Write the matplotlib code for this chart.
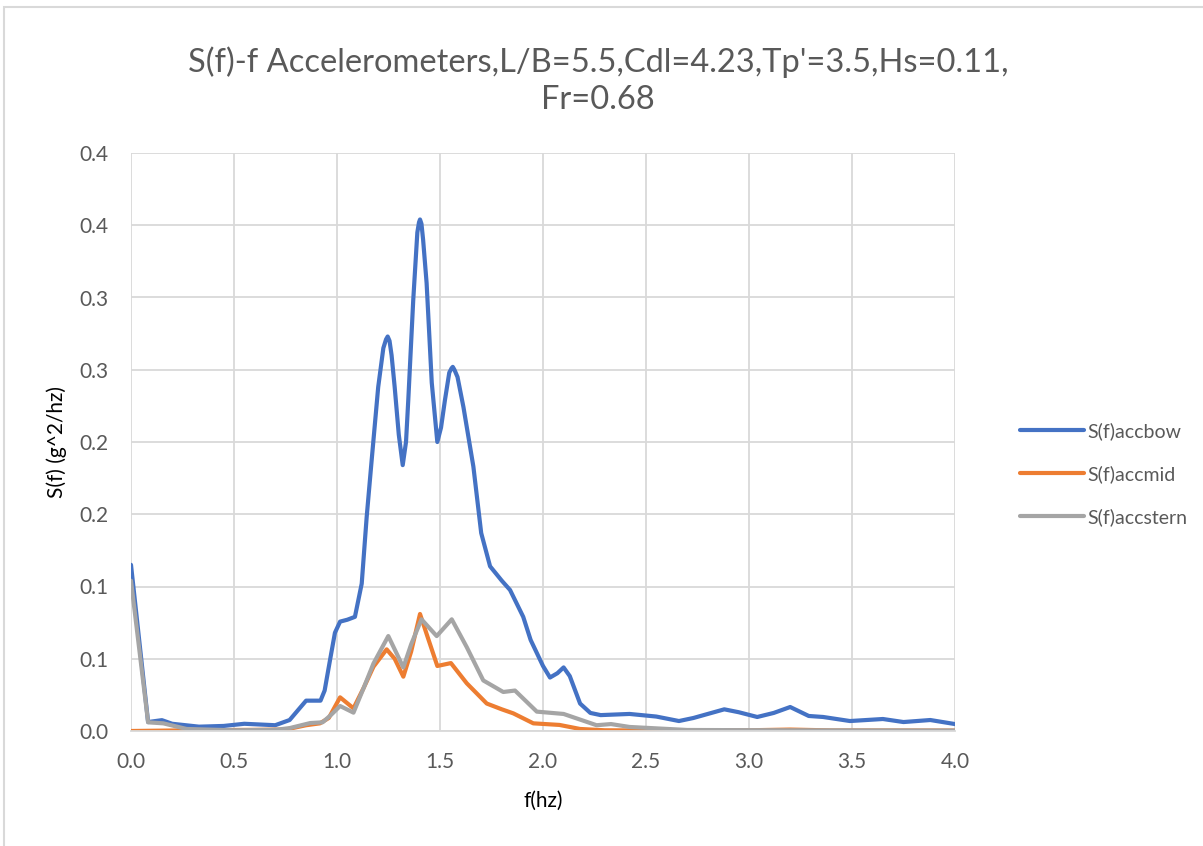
import matplotlib.pyplot as plt
from matplotlib.patches import Rectangle

# espectros S(f) dos tres acelerometros
f_bow = [0, 0.083, 0.15, 0.2, 0.33, 0.45, 0.55, 0.7, 0.77, 0.85, 0.92, 0.94, 0.966, 0.99,
         1.015, 1.05, 1.087, 1.12, 1.144, 1.168, 1.20, 1.225, 1.238, 1.246, 1.255, 1.265,
         1.28, 1.30, 1.319, 1.335, 1.346, 1.37, 1.39, 1.398, 1.403, 1.41, 1.418, 1.435,
         1.46, 1.487, 1.505, 1.524, 1.545, 1.556, 1.562, 1.57, 1.585, 1.614, 1.662, 1.70,
         1.743, 1.80, 1.84, 1.904, 1.94, 2.0, 2.034, 2.07, 2.10, 2.13, 2.18, 2.23, 2.28,
         2.42, 2.55, 2.66, 2.73, 2.88, 2.95, 3.04, 3.12, 3.2, 3.29, 3.36, 3.49, 3.65,
         3.75, 3.88, 4.0]
s_bow = [0.115, 0.0062, 0.0075, 0.005, 0.003, 0.0035, 0.005, 0.004, 0.0076, 0.021, 0.021,
         0.028, 0.049, 0.068, 0.0757, 0.077, 0.079, 0.102, 0.148, 0.187, 0.238, 0.265,
         0.271, 0.273, 0.270, 0.26, 0.238, 0.205, 0.184, 0.2, 0.229, 0.298, 0.345, 0.352,
         0.354, 0.351, 0.34, 0.310, 0.241, 0.200, 0.21, 0.229, 0.248, 0.251, 0.252, 0.250,
         0.245, 0.224, 0.183, 0.137, 0.114, 0.104, 0.0976, 0.079, 0.063, 0.045, 0.037,
         0.040, 0.044, 0.038, 0.019, 0.0125, 0.011, 0.0118, 0.010, 0.0069, 0.009, 0.015,
         0.013, 0.0097, 0.0125, 0.0166, 0.0104, 0.0097, 0.0069, 0.0083, 0.0062, 0.0076,
         0.0048]

f_mid = [0, 0.3, 0.6, 0.75, 0.85, 0.917, 0.96, 1.015, 1.08, 1.13, 1.177, 1.241, 1.28,
         1.322, 1.36, 1.403, 1.44, 1.487, 1.553, 1.63, 1.727, 1.80, 1.856, 1.953, 2.08,
         2.18, 2.3, 2.6, 3.0, 3.2, 3.4, 4.0]
s_mid = [0, 0.0005, 0.0008, 0.001, 0.004, 0.0053, 0.009, 0.0233, 0.0157, 0.03, 0.0445,
         0.0565, 0.05, 0.0376, 0.055, 0.081, 0.065, 0.045, 0.047, 0.033, 0.019, 0.015,
         0.0122, 0.0053, 0.0042, 0.0014, 0.0005, 0.0003, 0.0005, 0.001, 0.0004, 0.0003]

f_stern = [0, 0.083, 0.157, 0.27, 0.5, 0.7, 0.77, 0.87, 0.93, 0.97, 1.015, 1.08, 1.13,
           1.177, 1.249, 1.285, 1.322, 1.36, 1.41, 1.484, 1.557, 1.63, 1.71, 1.807,
           1.864, 1.97, 2.10, 2.26, 2.33, 2.42, 2.7, 3.2, 4.0]
s_stern = [0.104, 0.006, 0.0053, 0.0014, 0.0005, 0.0008, 0.002, 0.0055, 0.006, 0.011,
           0.0173, 0.0127, 0.03, 0.0467, 0.0657, 0.055, 0.044, 0.06, 0.0773, 0.0657,
           0.0773, 0.058, 0.035, 0.027, 0.028, 0.0134, 0.0118, 0.004, 0.0048, 0.0028,
           0.0007, 0.0005, 0.0003]

x_ticks = [0.0, 0.5, 1.0, 1.5, 2.0, 2.5, 3.0, 3.5, 4.0]
y_ticks = [0, 0.05, 0.10, 0.15, 0.20, 0.25, 0.30, 0.35, 0.40]
y_tick_labels = ['0.0', '0.1', '0.1', '0.2', '0.2', '0.3', '0.3', '0.4', '0.4']

plt.rcParams['font.family'] = ['Lato', 'DejaVu Sans']

fig = plt.figure(figsize=(12.03, 8.46), dpi=100)
fig.patches.append(Rectangle((4 / 1203, -0.1), 1.2, (846 - 7) / 846 + 0.1,
                             transform=fig.transFigure, fill=False,
                             edgecolor='#d9d9d9', linewidth=1.5))

ax = fig.add_axes([131 / 1203, 115 / 846, 824 / 1203, 578 / 846])

estilo = dict(linewidth=3.0, solid_joinstyle='round', solid_capstyle='round')
ax.plot(f_bow, s_bow, color='#4472C4', label='S(f)accbow', **estilo)
ax.plot(f_mid, s_mid, color='#ED7D31', label='S(f)accmid', **estilo)
ax.plot(f_stern, s_stern, color='#A5A5A5', label='S(f)accstern', **estilo)

ax.set_xlim(0, 4)
ax.set_ylim(0, 0.4)
ax.set_xticks(x_ticks)
ax.set_xticklabels([f'{v:.1f}' for v in x_ticks])
ax.set_yticks(y_ticks)
ax.set_yticklabels(y_tick_labels)
ax.tick_params(length=0, labelsize=15, labelcolor='#595959')
ax.tick_params(axis='x', pad=15)
ax.tick_params(axis='y', pad=16)
ax.grid(True, color='#d9d9d9', linewidth=1.3)
ax.set_axisbelow(True)
for lado in ['top', 'right', 'left']:
    ax.spines[lado].set_visible(False)
ax.spines['bottom'].set_color('#d9d9d9')
ax.spines['bottom'].set_linewidth(1.3)

ax.set_xlabel('f(hz)', fontsize=15, color='black', labelpad=14)
ax.set_ylabel('S(f) (g^2/hz)', fontsize=15, color='black', labelpad=9)

fig.text(0.497, 1 - 81 / 846, "S(f)-f Accelerometers,L/B=5.5,Cdl=4.23,Tp'=3.5,Hs=0.11,\nFr=0.68",
         ha='center', va='center', fontsize=23.5, color='#595959', linespacing=1.28)

fig.legend(loc='center left', bbox_to_anchor=(1002 / 1203, 1 - 474 / 846), frameon=False,
           fontsize=14, labelcolor='#595959', handlelength=3.3, labelspacing=1.3,
           handletextpad=0.2)

plt.savefig('out.png', dpi=100)
